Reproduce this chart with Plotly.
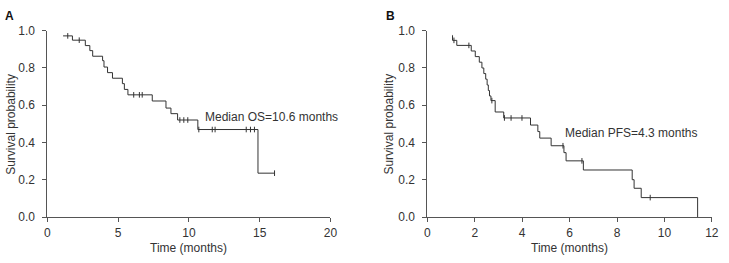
import plotly.graph_objects as go
import numpy as np

# Panel A: overall survival (step points: time, survival after step)
times_A = [1.11, 1.77, 2.68, 3.0, 3.2, 3.9, 4.0, 4.25, 4.6, 5.3, 5.44, 5.69, 7.41, 8.38, 8.73, 9.2, 10.63, 14.88, 16.05]
surv_A = [0.972, 0.949, 0.920, 0.893, 0.863, 0.839, 0.805, 0.775, 0.745, 0.716, 0.685, 0.656, 0.623, 0.585, 0.555, 0.521, 0.470, 0.236, 0.236]
censor_A = [1.44, 2.25, 6.1, 6.5, 6.7, 9.36, 9.64, 9.92, 10.7, 11.65, 11.85, 14.05, 14.35, 14.63, 16.05]

# Panel B: progression-free survival
times_B = [1.05, 1.06, 1.24, 1.85, 2.02, 2.19, 2.30, 2.38, 2.46, 2.52, 2.57, 2.62, 2.68, 2.86, 3.22, 4.35, 4.66, 4.74, 5.22, 5.76, 5.85, 6.58, 8.64, 8.72, 9.02, 11.4]
surv_B = [0.975, 0.948, 0.921, 0.891, 0.861, 0.831, 0.800, 0.770, 0.740, 0.709, 0.679, 0.650, 0.625, 0.564, 0.532, 0.494, 0.459, 0.424, 0.383, 0.346, 0.302, 0.253, 0.201, 0.155, 0.105, 0.0]
censor_B = [1.12, 1.75, 2.72, 3.25, 3.53, 3.99, 5.72, 6.52, 9.4]

xticks_A = [0, 5, 10, 15, 20]
xticks_B = [0, 2, 4, 6, 8, 10, 12]
yticks = [0.0, 0.2, 0.4, 0.6, 0.8, 1.0]

W, H = 729, 263
FONT = "Liberation Sans, Arial, sans-serif"
TXT = "#333333"
LINE = "#333333"
AX = "#555555"


def step_at(times, surv, t):
    idx = np.searchsorted(np.array(times), t, side="right") - 1
    return surv[max(idx, 0)]


def px(xp):
    return xp / W


def py(yp):
    return 1 - yp / H


fig = go.Figure()

for times, surv, cens, xa, ya in [
    (times_A, surv_A, censor_A, "x", "y"),
    (times_B, surv_B, censor_B, "x2", "y2"),
]:
    fig.add_trace(go.Scatter(x=times, y=surv, mode="lines", line=dict(shape="hv", color=LINE, width=1),
                             xaxis=xa, yaxis=ya, showlegend=False, hoverinfo="skip"))
    cy = [step_at(times, surv, t) for t in cens]
    fig.add_trace(go.Scatter(x=cens, y=cy, mode="markers",
                             marker=dict(symbol="line-ns", size=4, line=dict(color=LINE, width=1)),
                             xaxis=xa, yaxis=ya, showlegend=False, hoverinfo="skip"))

ax_common = dict(showgrid=False, zeroline=False, showline=True, linecolor=AX, linewidth=1,
                 ticks="outside", ticklen=4, tickcolor=AX, tickwidth=1,
                 tickfont=dict(family=FONT, size=12, color=TXT))

fig.update_layout(
    width=W, height=H, margin=dict(l=0, r=0, t=0, b=0),
    paper_bgcolor="white", plot_bgcolor="white",
    xaxis=dict(domain=[px(45), px(332)], range=[0, 20], tickvals=xticks_A, anchor="y",
               ticklabelstandoff=0, **ax_common),
    yaxis=dict(domain=[py(222), py(25)], range=[0, 1.0], tickvals=yticks, tickformat=".1f", anchor="x",
               ticklabelstandoff=5, **ax_common),
    xaxis2=dict(domain=[px(430.3), px(718.7)], range=[0, 12], tickvals=xticks_B, anchor="y2",
                ticklabelstandoff=0, **ax_common),
    yaxis2=dict(domain=[py(222), py(25)], range=[0, 1.0], tickvals=yticks, tickformat=".1f", anchor="x2",
                ticklabelstandoff=5, **ax_common),
    font=dict(family=FONT, size=12, color=TXT),
)

annos = [
    dict(x=px(188.5), y=py(255), text="Time (months)", xref="paper", yref="paper", showarrow=False,
         xanchor="center", yanchor="middle"),
    dict(x=px(574.5), y=py(255), text="Time (months)", xref="paper", yref="paper", showarrow=False,
         xanchor="center", yanchor="middle"),
    dict(x=px(8), y=py(123.5), text="Survival probability", xref="paper", yref="paper", showarrow=False,
         textangle=-90, xanchor="center", yanchor="middle"),
    dict(x=px(391), y=py(123.5), text="Survival probability", xref="paper", yref="paper", showarrow=False,
         textangle=-90, xanchor="center", yanchor="middle"),
    dict(x=px(0), y=py(9), text="<b>A</b>", xref="paper", yref="paper", showarrow=False,
         xanchor="left", yanchor="middle", font=dict(size=12, color="#111")),
    dict(x=px(386), y=py(9), text="<b>B</b>", xref="paper", yref="paper", showarrow=False,
         xanchor="left", yanchor="middle", font=dict(size=12, color="#111")),
    dict(x=10.99, y=0.535, text="Median OS=10.6 months", xref="x", yref="y", showarrow=False,
         xanchor="left", yanchor="middle"),
    dict(x=5.72, y=0.453, text="Median PFS=4.3 months", xref="x2", yref="y2", showarrow=False,
         xanchor="left", yanchor="middle"),
]
fig.update_layout(annotations=annos)

fig.write_html("out.html")
